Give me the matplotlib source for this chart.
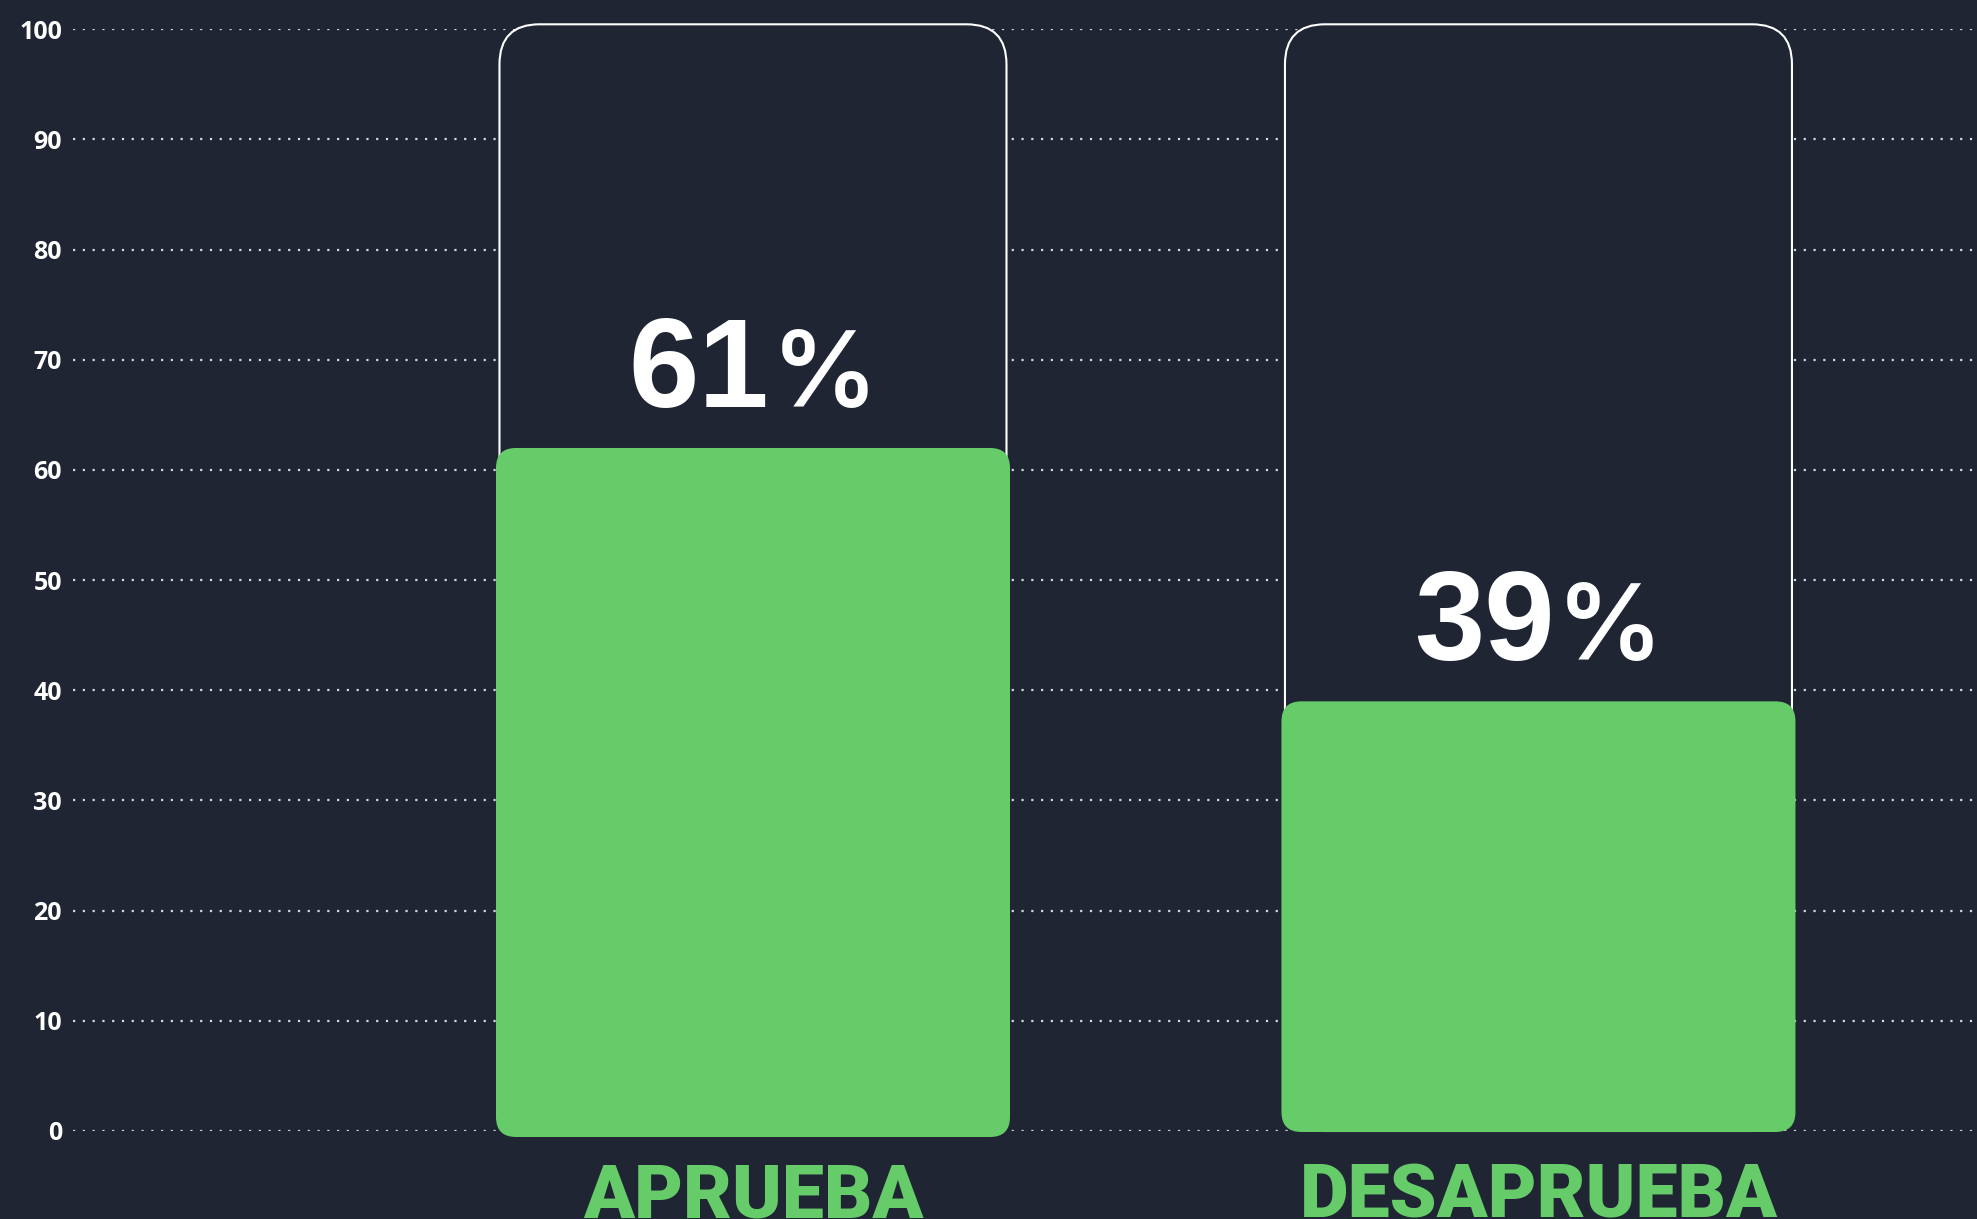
import matplotlib
matplotlib.use('Agg')
import matplotlib.pyplot as plt
from matplotlib.patches import FancyBboxPatch
from matplotlib import transforms

# ---- data ----
categories = ['APRUEBA', 'DESAPRUEBA']
values = [61, 39]
totals = [100, 100]
ytick_values = [0, 10, 20, 30, 40, 50, 60, 70, 80, 90, 100]
ytick_labels = [str(v) for v in ytick_values]

# ---- style ----
BG = '#1f2533'
GREEN = '#66cc69'
GRID = '#d4d7dc'
W, H, DPI = 1977, 1219, 100
# per-bar visual grow in pixels (top, bottom) – first bar is drawn slightly enlarged
grow_px = [(11, 6), (0, 1)]

fig = plt.figure(figsize=(W / DPI, H / DPI), dpi=DPI, facecolor=BG)
ax = fig.add_axes([73 / W, (H - 1131) / H, (W - 73) / W, (1131 - 29.3) / H])
ax.set_facecolor(BG)
positions = list(range(len(categories)))
ax.set_xlim(-0.8657, 1.5583)
ax.set_ylim(0, 100)
for s in ax.spines.values():
    s.set_visible(False)
ax.set_yticks(ytick_values)
ax.set_yticklabels(ytick_labels, fontfamily='Open Sans', fontweight='bold',
                   fontsize=18, color='white')
ax.tick_params(axis='y', length=0, pad=8)
ax.set_xticks([])
ax.grid(axis='y', color=GRID, linestyle=(0, (1, 3.4)), linewidth=1.6)
ax.set_axisbelow(True)

p0 = ax.transData.transform((0, 0))
p1 = ax.transData.transform((1, 1))
px = p1[0] - p0[0]
py = p1[1] - p0[1]
aspect = px / py

outline_w = 507 / px
green_w = 514 / px

renderer = fig.canvas.get_renderer()

for i, (x, v, tot, cat) in enumerate(zip(positions, values, totals, categories)):
    top_g, bot_g = grow_px[i]
    # outline background bar
    ob = FancyBboxPatch((x - outline_w / 2, 0), outline_w, tot + 5 / py,
                        boxstyle=f"round,pad=0,rounding_size={40 / px}",
                        mutation_aspect=aspect, fc=BG, ec='white', lw=1.5,
                        zorder=2, clip_on=False)
    ax.add_patch(ob)
    # green value bar
    gb = FancyBboxPatch((x - green_w / 2, -bot_g / py), green_w,
                        v + (top_g + bot_g) / py,
                        boxstyle=f"round,pad=0,rounding_size={20 / px}",
                        mutation_aspect=aspect, fc=GREEN, ec='none',
                        zorder=3, clip_on=False)
    ax.add_patch(gb)

    # value label: digits + smaller percent sign
    top_val = v + top_g / py
    t1 = ax.text(x, top_val, f"{v}", fontfamily='Liberation Sans', fontweight='bold',
                 fontsize=91, color='white', ha='left', va='baseline', zorder=5)
    t2 = ax.text(x, top_val, "%", fontfamily='Inter', fontweight='semibold',
                 fontsize=76, color='white', ha='left', va='baseline', zorder=5)
    w1 = t1.get_window_extent(renderer).width
    w2 = t2.get_window_extent(renderer).width
    gap = 2
    total_w = w1 + gap + w2
    t1.set_transform(transforms.offset_copy(ax.transData, x=-total_w / 2, y=41, units='dots'))
    t2.set_transform(transforms.offset_copy(ax.transData, x=-total_w / 2 + w1 + gap, y=41, units='dots'))

    # category label
    ax.text(x, 0, cat, transform=transforms.offset_copy(ax.transData, x=0, y=-86, units='dots'),
            ha='center', va='baseline', fontfamily='Roboto', fontweight=900,
            fontsize=54, color=GREEN, clip_on=False, zorder=5)

fig.savefig('out.png', dpi=DPI, facecolor=BG)
